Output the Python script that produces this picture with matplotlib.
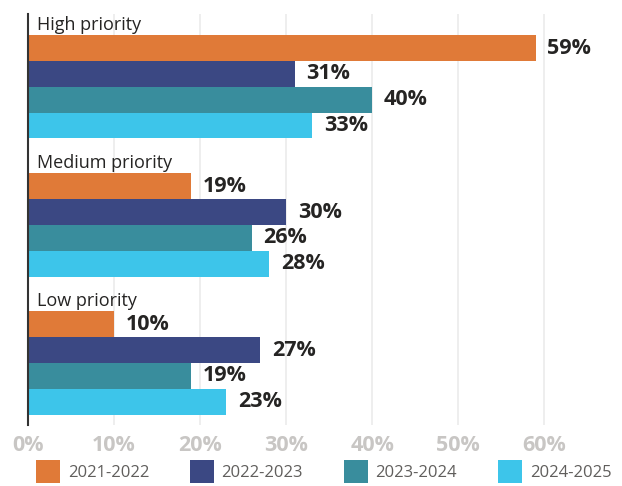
import numpy as np
import matplotlib.pyplot as plt
from matplotlib.patches import Patch

plt.rcParams['font.family'] = ['Open Sans', 'DejaVu Sans']

categories = ["High priority", "Medium priority", "Low priority"]
years = ["2021-2022", "2022-2023", "2023-2024", "2024-2025"]
values = {
    "2021-2022": [0.59, 0.19, 0.10],
    "2022-2023": [0.31, 0.30, 0.27],
    "2023-2024": [0.40, 0.26, 0.19],
    "2024-2025": [0.33, 0.28, 0.23],
}
colors = ["#E07A38", "#3B4883", "#398D9D", "#3DC5EA"]
ticks = [0, 0.1, 0.2, 0.3, 0.4, 0.5, 0.6]

W, H = 622, 486
fig = plt.figure(figsize=(W / 100, H / 100), dpi=100)
ax = fig.add_axes([28 / W, 1 - 425 / H, 585 / W, 411 / H])

group_step = 5.35
bar_h = 1.0
for j, yr in enumerate(years):
    for i, v in enumerate(values[yr]):
        y = i * group_step + j + 0.5
        ax.barh(y, v, height=bar_h, color=colors[j], linewidth=0)
        ax.annotate(f"{v * 100:.0f}%", (v, y), xytext=(8.5, 0),
                    textcoords="offset points", va="center", ha="left",
                    fontsize=15.5, fontweight="bold", color="#252423")

for i, cat in enumerate(categories):
    ax.annotate(cat, (0, i * group_step), xytext=(6.5, 1),
                textcoords="offset points", va="bottom", ha="left",
                fontsize=13, color="#252423")

ax.set_xlim(0, 0.68)
ax.set_ylim(2 * group_step + 4 + 0.4, -0.82)
ax.set_yticks([])
ax.set_xticks(ticks)
ax.set_xticklabels([f"{t * 100:.0f}%" for t in ticks], fontsize=15.5,
                   fontweight="bold", color="#C8C6C4")
ax.tick_params(axis="x", length=0, pad=7)
ax.grid(axis="x", color="#EDEDED", linewidth=1.3)
ax.set_axisbelow(True)
for s in ["top", "right", "bottom"]:
    ax.spines[s].set_visible(False)
ax.spines["left"].set_color("#333333")
ax.spines["left"].set_linewidth(1.5)

handles = [Patch(facecolor=c, edgecolor="none") for c in colors]
fig.legend(handles, years, loc="lower left", bbox_to_anchor=(36 / W, 0.006),
           ncol=4, frameon=False, fontsize=12, labelcolor="#605E5C",
           handlelength=1.45, handleheight=1.75, handletextpad=0.45,
           columnspacing=2.45, borderaxespad=0, borderpad=0)

fig.savefig("out.png", dpi=100)
